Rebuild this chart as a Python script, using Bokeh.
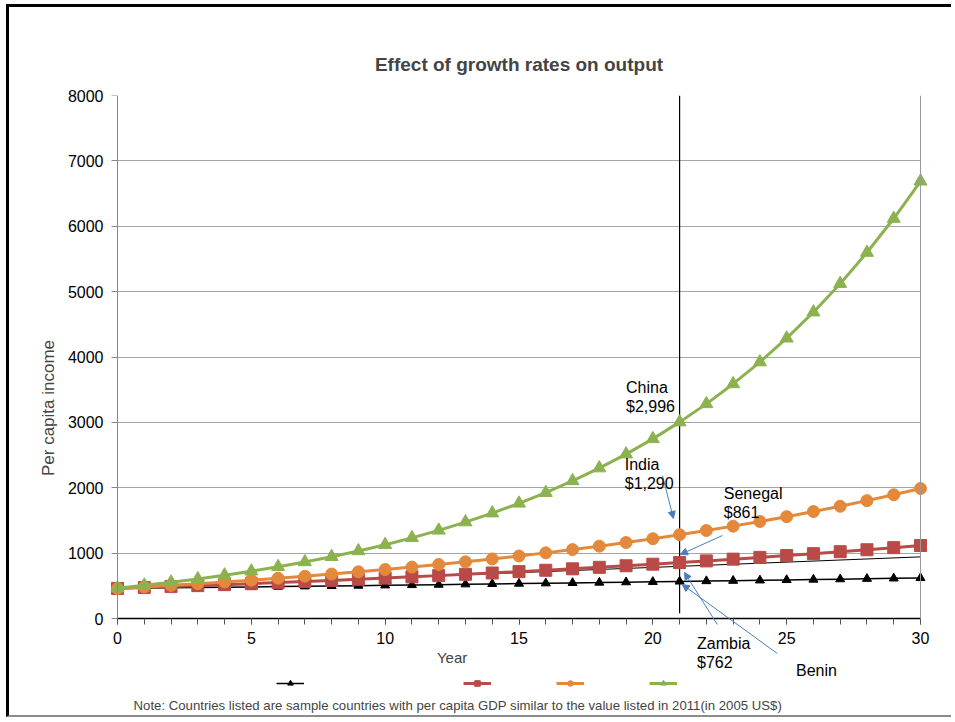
from bokeh.plotting import figure
from bokeh.models import (Label, Arrow, NormalHead, Legend, LegendItem, LinearAxis, Grid,
                          BoxAnnotation, SingleIntervalTicker, FixedTicker, Range1d)
from bokeh.embed import file_html
from bokeh.resources import INLINE

# ---------------- data ----------------
years = list(range(31))
benin = [460, 465, 469, 474, 479, 483, 488, 493, 498, 503, 508, 513, 518, 524, 529, 534,
         539, 545, 550, 556, 561, 567, 573, 578, 584, 590, 596, 602, 608, 614, 620]
senegal = [460, 474, 488, 503, 518, 533, 549, 566, 583, 600, 618, 637, 656, 676, 696, 717,
           738, 760, 783, 807, 831, 856, 881, 908, 935, 963, 992, 1022, 1052, 1084, 1117]
india = [460, 483, 507, 533, 559, 587, 616, 647, 680, 714, 749, 787, 826, 867, 911, 956,
         1004, 1054, 1107, 1162, 1221, 1282, 1346, 1413, 1484, 1558, 1636, 1717, 1803, 1893, 1988]
china = [464, 508, 555, 606, 663, 724, 791, 865, 945, 1033, 1129, 1234, 1349, 1475, 1612, 1762,
         1925, 2105, 2301, 2514, 2748, 3004, 3283, 3588, 3922, 4287, 4686, 5122, 5598, 6118, 6688]
trend_x = [0, 30]
trend_y = [460, 943]
marker_x = [21]
marker_y0 = [80]
marker_y1 = [8000]

label_text = ["China", "$2,996", "India", "$1,290", "Senegal", "$861", "Zambia", "$762", "Benin"]
label_x = [19.0, 19.0, 18.95, 18.95, 22.65, 22.65, 21.65, 21.65, 25.35]
label_y = [3533, 3247, 2356, 2065, 1912, 1621, -382, -673, -795]

arrow_x0 = [20.36, 22.6, 22.41, 24.65]
arrow_y0 = [2187, 1270, -92, -535]
arrow_x1 = [20.77, 21.03, 21.18, 21.1]
arrow_y1 = [1530, 979, 704, 520]

title_text = "Effect of growth rates on output"
x_title = "Year"
y_title = "Per capita income"
note_text = ("Note: Countries listed are sample countries with per capita GDP similar "
             "to the value listed in 2011(in 2005 US$)")

# ---------------- styles ----------------
FONT = "Liberation Sans"
C_GREEN = "#8CB250"
C_ORANGE = "#E4893B"
C_RED = "#BA4A47"
C_BLUE = "#4A7EBB"
C_GRID = "#A6A6A6"
C_AXIS = "#888888"

p = figure(width=945, height=713, output_backend="svg", toolbar_location=None,
           x_range=Range1d(-0.411, 30.411), y_range=Range1d(-1560, 8000),
           x_axis_location=None, y_axis_location=None,
           min_border_left=97, min_border_right=23, min_border_top=88, min_border_bottom=0,
           title=title_text)
# drop the default grids; a single horizontal grid is added below
p.center = [r for r in p.center if not isinstance(r, Grid)]

p.title.align = "center"
p.title.text_font = FONT
p.title.text_font_size = "19px"
p.title.text_font_style = "bold"
p.title.standoff = 41
p.outline_line_color = None

y_ticker = SingleIntervalTicker(interval=1000, num_minor_ticks=0)

# y axis labels (left panel)
yaxis = LinearAxis(ticker=y_ticker, bounds=(0, 8000))
yaxis.major_label_text_font = FONT
yaxis.major_label_text_font_size = "16px"
yaxis.major_label_text_color = "black"
yaxis.axis_line_color = None
yaxis.major_tick_line_color = None
yaxis.minor_tick_line_color = None
yaxis.major_tick_in = 0
yaxis.major_tick_out = 0
yaxis.major_label_standoff = 3
yaxis.axis_label = y_title
yaxis.axis_label_text_font = FONT
yaxis.axis_label_text_font_size = "17px"
yaxis.axis_label_text_font_style = "normal"
yaxis.axis_label_standoff = 7
p.add_layout(yaxis, "left")

# y axis line and ticks drawn at x = 0
yline = LinearAxis(ticker=y_ticker, bounds=(0, 8000), fixed_location=0)
yline.axis_line_color = C_AXIS
yline.major_tick_line_color = C_AXIS
yline.minor_tick_line_color = None
yline.major_tick_in = 0
yline.major_tick_out = 6
yline.major_label_text_color = None
p.add_layout(yline, "left")

# x axis drawn at y = 0
xaxis = LinearAxis(ticker=SingleIntervalTicker(interval=5, num_minor_ticks=5),
                   fixed_location=0, bounds=(0, 30))
xaxis.major_label_text_font = FONT
xaxis.major_label_text_font_size = "16px"
xaxis.major_label_text_color = "black"
xaxis.major_tick_in = 0
xaxis.major_tick_out = 6
xaxis.minor_tick_in = 0
xaxis.minor_tick_out = 6
xaxis.axis_line_color = "black"
xaxis.axis_line_width = 1.5
xaxis.major_tick_line_color = "#555555"
xaxis.minor_tick_line_color = "#555555"
xaxis.major_label_standoff = 7
p.add_layout(xaxis, "below")

# right border of the plot area
raxis = LinearAxis(ticker=FixedTicker(ticks=[]), bounds=(0, 8000), fixed_location=30)
raxis.axis_line_color = "#999999"
raxis.major_tick_line_color = None
raxis.minor_tick_line_color = None
p.add_layout(raxis, "right")

grid = Grid(dimension=1, ticker=y_ticker, bounds=(0, 8000),
            grid_line_color=C_GRID, grid_line_width=1)
p.add_layout(grid)
# keep the horizontal grid inside the 0..30 plot area
p.add_layout(BoxAnnotation(left=30.02, right=31, bottom=-100, top=8100, fill_color="white",
                           fill_alpha=1, line_color=None, level="underlay"))
p.add_layout(BoxAnnotation(left=-1, right=-0.02, bottom=-100, top=8100, fill_color="white",
                           fill_alpha=1, line_color=None, level="underlay"))

# trend line and vertical marker
p.line(trend_x, trend_y, color="black", line_width=1)
p.segment(x0=marker_x, y0=marker_y0, x1=marker_x, y1=marker_y1, color="black", line_width=1.2)

# series
l_b = p.line(years, benin, color="black", line_width=1.5)
m_b = p.scatter(years, benin, marker="triangle", size=9, color="black")
l_s = p.line(years, senegal, color=C_RED, line_width=3)
m_s = p.scatter(years, senegal, marker="square", size=12, color=C_RED)
l_i = p.line(years, india, color=C_ORANGE, line_width=3)
m_i = p.scatter(years, india, marker="circle", size=12, color=C_ORANGE)
l_c = p.line(years, china, color=C_GREEN, line_width=3)
m_c = p.scatter(years, china, marker="triangle", size=13, color=C_GREEN)

# arrows
for xs, ys, xe, ye in zip(arrow_x0, arrow_y0, arrow_x1, arrow_y1):
    p.add_layout(Arrow(end=NormalHead(size=7, fill_color=C_BLUE, line_color=C_BLUE),
                       x_start=xs, y_start=ys, x_end=xe, y_end=ye,
                       line_color=C_BLUE, line_width=1))

# country labels
for t, x, y in zip(label_text, label_x, label_y):
    p.add_layout(Label(x=x, y=y, text=t, text_font=FONT, text_font_size="16px",
                       text_baseline="alphabetic", text_align="left", text_color="black"))

# x-axis title and note
p.add_layout(Label(x=12.5, y=-597, text=x_title, text_font=FONT, text_font_size="15px",
                   text_baseline="middle", text_align="center"))
p.add_layout(Label(x=0.6, y=-1331, text=note_text, text_font=FONT, text_font_size="13.2px",
                   text_baseline="middle", text_align="left"))

# legend: markers only, one small legend per series
legend_x = [170, 357, 450, 543]
for rs, lx in zip([[l_b, m_b], [l_s, m_s], [l_i, m_i], [l_c, m_c]], legend_x):
    leg = Legend(items=[LegendItem(label=" ", renderers=rs)], location=(lx, 30),
                 orientation="horizontal", background_fill_alpha=0, border_line_alpha=0,
                 padding=0, margin=0, glyph_width=28, glyph_height=14,
                 label_width=0, label_height=14,
                 label_text_font_size="2px", label_standoff=0, spacing=0)
    p.add_layout(leg)

p.styles = {"margin-left": "6px", "margin-top": "4px",
            "border-left": "3px solid black", "border-top": "3px solid black",
            "border-bottom": "2px solid #8C8C8C"}

open("out.html", "w").write(file_html(p, INLINE))
